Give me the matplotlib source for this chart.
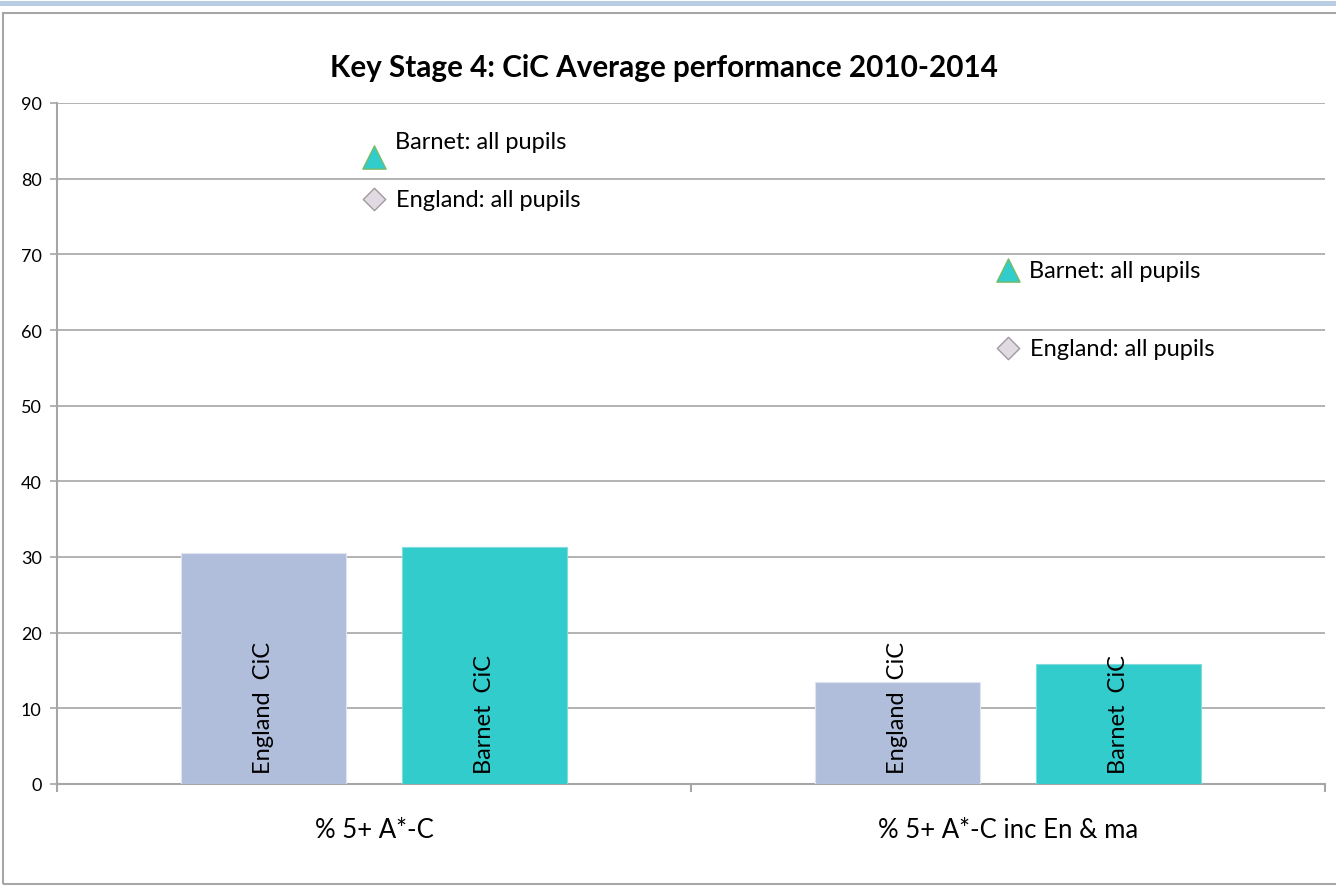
import matplotlib
matplotlib.use("Agg")
import matplotlib.pyplot as plt
from matplotlib.patches import Rectangle
import numpy as np

categories = ["% 5+ A*-C", "% 5+ A*-C inc En & ma"]
england_cic = [30.5, 13.5]
barnet_cic = [31.3, 15.9]
barnet_all = [82.9, 67.9]
england_all = [77.3, 57.6]
bar_labels = ["England  CiC", "Barnet  CiC"]
marker_labels = ["Barnet: all pupils", "England: all pupils"]
title = "Key Stage 4: CiC Average performance 2010-2014"

plt.rcParams['font.family'] = ['Lato', 'DejaVu Sans']

fig = plt.figure(figsize=(13.36, 8.87), dpi=100)

# outer decoration: blue band and gray frame
fig.patches.append(Rectangle((0, 1 - 7/887), 1, 5/887, transform=fig.transFigure,
                             facecolor="#b8cce4", edgecolor="none", zorder=0))
fig.patches.append(Rectangle((3/1336, 2/887), 1.1, 1 - 16/887, transform=fig.transFigure,
                             facecolor="none", edgecolor="#a6a6a6", linewidth=1.5, zorder=0))

ax = fig.add_axes([57/1336, 1 - 785/887, (1325 - 57)/1336, (785 - 104)/887])

x = np.arange(len(categories))
w = 0.26
off = 0.174
grid_c = "#a6a6a6"

b1 = ax.bar(x - off, england_cic, w, color="#b0bedc", edgecolor="#dfe4f0", linewidth=0.8, zorder=3)
b2 = ax.bar(x + off, barnet_cic, w, color="#33cccc", edgecolor="#7fdddd", linewidth=0.8, zorder=3)

for bars, lab in ((b1, bar_labels[0]), (b2, bar_labels[1])):
    for r in bars:
        ax.text(r.get_x() + r.get_width() / 2, 1.5, lab, rotation=90,
                ha="center", va="bottom", fontsize=17, color="black", zorder=5)

ax.scatter(x, barnet_all, marker="^", s=280, color="#33cccc", edgecolors="#77bb66",
           linewidths=1.0, zorder=4)
ax.scatter(x, england_all, marker="D", s=130, color="#e2dae2", edgecolors="#a09aa0",
           linewidths=1.0, zorder=4)

barnet_dy = [11, 0]
for i in range(len(categories)):
    ax.annotate(marker_labels[0], (x[i], barnet_all[i]), xytext=(15, barnet_dy[i]),
                textcoords="offset points", ha="left", va="center", fontsize=17)
    ax.annotate(marker_labels[1], (x[i], england_all[i]), xytext=(16, 0),
                textcoords="offset points", ha="left", va="center", fontsize=17)

ax.set_xlim(-0.5, 1.5)
ax.set_ylim(0, 90)
ax.set_yticks(np.arange(0, 91, 10))
ax.tick_params(axis="y", labelsize=13, length=5, color=grid_c, width=1.2, pad=6)
ax.set_xticks([-0.5, 0.5, 1.5])
ax.set_xticklabels([])
ax.set_xticks(x, minor=True)
ax.set_xticklabels(categories, minor=True, fontsize=18.5)
ax.tick_params(axis="x", which="major", length=6, color=grid_c, width=1.5)
ax.tick_params(axis="x", which="minor", length=0, pad=24)

ax.yaxis.grid(True, color=grid_c, linewidth=1.2, zorder=0)
ax.set_axisbelow(True)
for s in ("top", "right"):
    ax.spines[s].set_visible(False)
for s in ("left", "bottom"):
    ax.spines[s].set_color(grid_c)
    ax.spines[s].set_linewidth(1.5)

fig.text(664/1336, 1 - 68/887, title, ha="center", va="center",
         fontsize=21.3, fontweight="bold")

fig.savefig("out.png", dpi=100)
